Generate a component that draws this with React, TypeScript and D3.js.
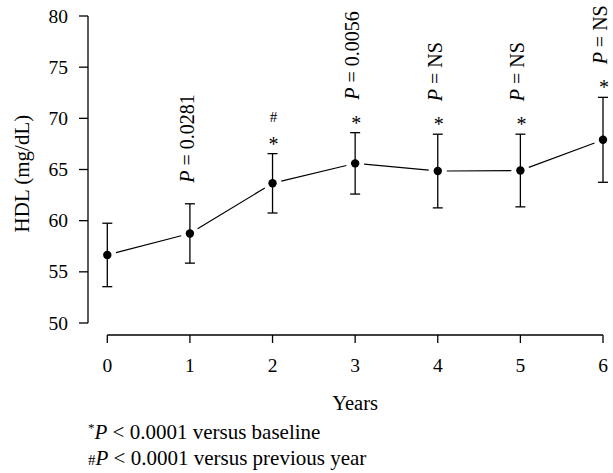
import React from "react";
import * as d3 from "d3";

const years = [0, 1, 2, 3, 4, 5, 6];
const means = [56.65, 58.75, 63.65, 65.6, 64.85, 64.9, 67.9];
const errs = [3.1, 2.9, 2.9, 3.0, 3.6, 3.55, 4.15];
const stars = [false, false, true, true, true, true, true];
const hashes = [false, false, true, false, false, false, false];
const pLabels = ["", "0.0281", "", "0.0056", "NS", "NS", "NS"];
const yTicks = [50, 55, 60, 65, 70, 75, 80];
const footnotes = [
  { mark: "*", text: " < 0.0001 versus baseline" },
  { mark: "#", text: " < 0.0001 versus previous year" },
];

const W = 613;
const H = 473;
const FONT = "'Liberation Serif', 'Times New Roman', serif";

export default function App() {
  const x = d3.scaleLinear().domain([0, 6]).range([107.3, 603]);
  const y = d3.scaleLinear().domain([50, 80]).range([323, 16]);
  const axisY = 335;
  const axisX = 88;
  const gap = 9;
  const fsTick = 19.5;
  const fsLab = 20.5;
  const fsAnn = 20;

  const segs = years.slice(1).map((yr, i) => {
    const x1 = x(years[i]);
    const y1 = y(means[i]);
    const x2 = x(yr);
    const y2 = y(means[i + 1]);
    const dx = x2 - x1;
    const dy = y2 - y1;
    const L = Math.sqrt(dx * dx + dy * dy);
    const ux = dx / L;
    const uy = dy / L;
    return { x1: x1 + ux * gap, y1: y1 + uy * gap, x2: x2 - ux * gap, y2: y2 - uy * gap };
  });

  return (
    <svg
      width={W}
      height={H}
      style={{ position: "absolute", left: 0, top: 0, background: "#fff" }}
      fontFamily={FONT}
    >
      <rect width={W} height={H} fill="#fff" />
      {/* y axis */}
      <line x1={axisX} x2={axisX} y1={y(50)} y2={y(80)} stroke="#000" strokeWidth={1.3} />
      {yTicks.map((t) => (
        <g key={t}>
          <line x1={axisX - 9} x2={axisX} y1={y(t)} y2={y(t)} stroke="#000" strokeWidth={1.3} />
          <text x={axisX - 20} y={y(t) + 6.5} textAnchor="end" fontSize={fsTick}>
            {t}
          </text>
        </g>
      ))}
      {/* x axis */}
      <line x1={x(0)} x2={x(6)} y1={axisY} y2={axisY} stroke="#000" strokeWidth={1.3} />
      {years.map((t) => (
        <g key={t}>
          <line x1={x(t)} x2={x(t)} y1={axisY} y2={axisY + 8} stroke="#000" strokeWidth={1.3} />
          <text x={x(t)} y={axisY + 37} textAnchor="middle" fontSize={fsTick}>
            {t}
          </text>
        </g>
      ))}
      <text x={x(3)} y={410} textAnchor="middle" fontSize={fsLab}>
        Years
      </text>
      <text
        transform={`translate(${29},${y(64.6)}) rotate(-90)`}
        textAnchor="middle"
        fontSize={fsLab + 0.5}
      >
        HDL (mg/dL)
      </text>
      {/* line */}
      {segs.map((s, i) => (
        <line key={i} x1={s.x1} y1={s.y1} x2={s.x2} y2={s.y2} stroke="#000" strokeWidth={1.2} />
      ))}
      {/* error bars & points */}
      {years.map((t, i) => {
        const cx = x(t);
        const top = y(means[i] + errs[i]);
        const bot = y(means[i] - errs[i]);
        return (
          <g key={t}>
            <line x1={cx} x2={cx} y1={top} y2={bot} stroke="#000" strokeWidth={1.3} />
            <line x1={cx - 5} x2={cx + 5} y1={top} y2={top} stroke="#000" strokeWidth={1.3} />
            <line x1={cx - 5} x2={cx + 5} y1={bot} y2={bot} stroke="#000" strokeWidth={1.3} />
            <circle cx={cx} cy={y(means[i])} r={4.2} fill="#000" />
          </g>
        );
      })}
      {/* annotations */}
      {years.map((t, i) => {
        const cx = x(t);
        const top = y(means[i] + errs[i]);
        const starC = top - 13;
        let pStart = top - 21;
        const items: React.ReactNode[] = [];
        if (stars[i]) {
          items.push(
            <text key="s" x={cx + 1} y={starC + 10} textAnchor="middle" fontSize={fsAnn}>
              *
            </text>
          );
          pStart = starC - 20;
        }
        if (hashes[i]) {
          items.push(
            <text key="h" x={cx + 1} y={starC - 25 + 6} textAnchor="middle" fontSize={fsAnn - 5}>
              #
            </text>
          );
        }
        if (pLabels[i]) {
          items.push(
            <text
              key="p"
              transform={`translate(${cx + 4},${pStart}) rotate(-90)`}
              fontSize={fsAnn}
            >
              <tspan fontStyle="italic">P</tspan>
              <tspan>{" = " + pLabels[i]}</tspan>
            </text>
          );
        }
        return <g key={t}>{items}</g>;
      })}
      {/* footnotes */}
      {footnotes.map((f, i) => (
        <text key={i} x={88} y={439 + i * 26} fontSize={21}>
          {f.mark === "*" ? (
            <tspan fontSize={13} dy={-7}>
              *
            </tspan>
          ) : (
            <tspan fontSize={15}>#</tspan>
          )}
          <tspan fontStyle="italic" dy={f.mark === "*" ? 7 : 0}>
            P
          </tspan>
          <tspan>{f.text}</tspan>
        </text>
      ))}
    </svg>
  );
}
